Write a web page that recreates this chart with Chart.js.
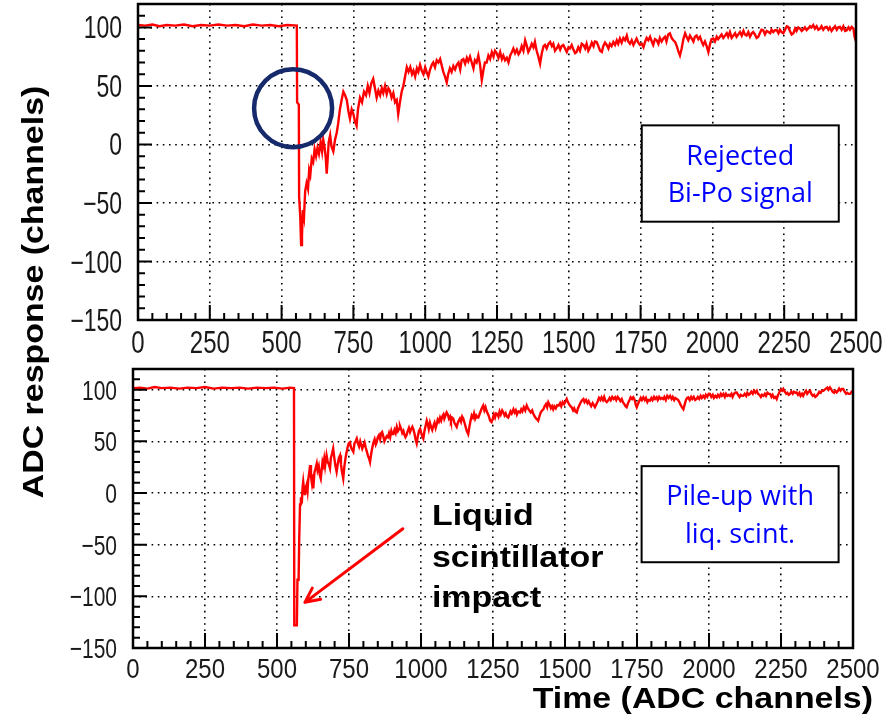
<!DOCTYPE html>
<html>
<head>
<meta charset="utf-8">
<script src="https://cdn.jsdelivr.net/npm/chart.js@4.4.1/dist/chart.umd.min.js"></script>
<style>
  html, body { margin: 0; padding: 0; background: #fff; }
  #wrap { position: relative; width: 893px; height: 717px; }
  #wrap canvas { position: absolute; left: 0; top: 0; }
</style>
</head>
<body>
<div id="wrap">
  <canvas id="topChart" width="893" height="717"></canvas>
  <canvas id="bottomChart" width="893" height="717"></canvas>
</div>
<script>
// axis ticks shared by both panels
const xTicks = [0, 250, 500, 750, 1000, 1250, 1500, 1750, 2000, 2250, 2500];
const yTicks = [-150, -100, -50, 0, 50, 100];

// upper panel: rejected Bi-Po signal
const topTime = [
  0, 25, 50, 75, 100, 130, 160, 190, 220, 250,
  280, 310, 340, 370, 400, 430, 460, 490, 520, 553,
  554, 560, 561, 565, 568, 571, 574, 578, 582, 587,
  592, 596, 600, 605, 610, 615, 620, 625, 630, 636,
  641, 645, 650, 654, 657, 660, 664, 669, 674, 680,
  686, 692, 697, 703, 709, 715, 721, 727, 733, 738,
  744, 750, 755, 761, 766, 773, 780, 787, 794, 800,
  806, 812, 819, 825, 831, 837, 843, 849, 854, 860,
  866, 872, 877, 883, 889, 895, 901, 906, 912, 918,
  924, 930, 936, 942, 948, 954, 959, 965, 971, 976,
  982, 988, 994, 1000, 1005, 1011, 1017, 1023, 1028, 1034,
  1040, 1046, 1052, 1057, 1063, 1069, 1075, 1080, 1086, 1092,
  1098, 1104, 1110, 1116, 1122, 1127, 1133, 1139, 1145, 1150,
  1156, 1162, 1168, 1173, 1179, 1185, 1191, 1197, 1203, 1208,
  1214, 1220, 1226, 1232, 1238, 1243, 1249, 1255, 1261, 1267,
  1272, 1278, 1284, 1290, 1296, 1302, 1307, 1313, 1319, 1325,
  1330, 1336, 1342, 1348, 1354, 1359, 1365, 1371, 1377, 1382,
  1388, 1394, 1400, 1406, 1412, 1417, 1423, 1429, 1435, 1441,
  1446, 1452, 1458, 1464, 1470, 1475, 1481, 1487, 1493, 1499,
  1504, 1510, 1516, 1522, 1527, 1533, 1539, 1545, 1551, 1557,
  1562, 1568, 1574, 1580, 1586, 1591, 1597, 1603, 1609, 1615,
  1620, 1626, 1632, 1638, 1643, 1649, 1655, 1661, 1667, 1672,
  1678, 1684, 1690, 1696, 1702, 1707, 1713, 1719, 1725, 1731,
  1736, 1742, 1748, 1754, 1760, 1766, 1771, 1777, 1783, 1789,
  1794, 1800, 1806, 1812, 1817, 1823, 1829, 1835, 1840, 1846,
  1852, 1858, 1864, 1870, 1876, 1881, 1887, 1893, 1899, 1905,
  1910, 1916, 1922, 1928, 1934, 1939, 1945, 1951, 1957, 1963,
  1968, 1974, 1980, 1986, 1992, 1997, 2003, 2009, 2015, 2020,
  2026, 2032, 2038, 2044, 2050, 2055, 2061, 2067, 2073, 2079,
  2084, 2090, 2096, 2102, 2108, 2113, 2119, 2125, 2131, 2137,
  2142, 2148, 2154, 2160, 2165, 2171, 2177, 2183, 2189, 2195,
  2201, 2206, 2212, 2218, 2224, 2230, 2235, 2241, 2247, 2253,
  2259, 2264, 2270, 2276, 2282, 2288, 2293, 2299, 2305, 2311,
  2316, 2322, 2328, 2334, 2340, 2345, 2351, 2357, 2363, 2369,
  2375, 2380, 2386, 2392, 2398, 2404, 2409, 2415, 2421, 2427,
  2433, 2438, 2444, 2450, 2456, 2462, 2468, 2474, 2479, 2485,
  2491, 2495, 2500
];
const topSignal = [
  102, 101.5, 102.5, 101, 102, 101.5, 102.5, 101, 102, 101.5,
  102.5, 101.5, 102, 101, 102.5, 101.5, 102, 101, 102, 101.5,
  36, 34, -45, -62, -86, -78, -56, -62, -40, -33,
  -38, -22, -26, -12, -15, -4, -10, -3, -8, 2,
  -6, 4, -3, -12, -25, -14, 2, 8, -2, -6,
  4, 10, 18, 30, 38, 45, 42, 38, 28, 22,
  30, 26, 20, 16, 30, 40, 36, 45, 42, 50,
  44, 52, 56, 48, 40, 46, 42, 48, 44, 50,
  43, 48, 46, 40, 44, 36, 38, 26, 36, 45,
  50, 58, 66, 62, 66, 60, 63, 58, 65, 62,
  68, 63, 60, 66, 62, 58, 64, 68, 70, 66,
  72, 70, 73, 68, 62, 58, 53, 60, 65, 62,
  67, 64, 68, 70, 64, 72, 73, 69, 74, 71,
  75, 70, 65, 72, 70, 76, 68, 55, 64, 70,
  70, 76, 73, 79, 75, 80, 78, 74, 79, 73,
  76, 72, 74, 70, 76, 79, 82, 78, 81, 77,
  79, 84, 80, 89, 84, 79, 82, 86, 83, 87.6,
  80, 75, 69, 78, 84, 85, 82, 86, 87.6, 84,
  86, 80, 82, 85, 81, 84, 85, 82, 79, 83,
  82, 85, 81, 78, 79, 83, 80, 86, 85, 82,
  86, 80, 83, 87, 84, 88, 87.6, 84, 80, 79,
  84, 87, 85, 82, 86, 84, 87.6, 85, 89, 86,
  90.5, 87, 91, 89, 93, 88, 86, 89, 85, 88,
  90.5, 87, 85, 86, 83, 88, 91, 89, 92, 88,
  85, 90, 89, 86, 91, 88, 90.5, 92, 88, 94,
  95, 91, 89, 87.6, 84, 80, 76, 82, 90, 95,
  92, 89, 93, 90.5, 88, 92, 93, 90, 92, 87.6,
  85, 88, 84, 79, 86, 90, 90.5, 88, 92, 90,
  92, 94, 91, 93, 95, 92, 96, 91, 93, 95,
  92, 94, 96, 93, 97, 94, 93, 96, 92, 95,
  96, 94, 91, 92, 95, 98, 97.6, 94, 97, 96,
  95, 98, 96, 97.6, 97.6, 95, 98, 96, 95, 98,
  101, 100.4, 97, 94, 95, 99, 97, 100, 99, 97,
  98, 100, 97.6, 99, 101, 100, 102, 99, 101, 98,
  99, 101, 98, 100, 100.4, 98, 100, 97, 99, 101,
  98, 100, 100.4, 98, 101, 97, 97.6, 100, 98, 100.4,
  99, 92, 88
];

// lower panel: pile-up with liquid scintillator
const bottomTime = [
  0, 25, 50, 75, 100, 130, 160, 190, 220, 250,
  280, 310, 340, 370, 400, 430, 460, 490, 520, 545,
  559, 560, 569, 571, 575, 577, 580, 583, 586, 589,
  591, 594, 597, 600, 603, 606, 609, 612, 615, 618,
  621, 624, 626, 630, 634, 638, 641, 645, 649, 652,
  655, 658, 661, 664, 667, 672, 676, 680, 684, 687,
  691, 695, 699, 703, 707, 711, 715, 719, 722, 726,
  730, 734, 738, 742, 745, 749, 753, 757, 761, 765,
  769, 773, 777, 781, 785, 789, 793, 796, 800, 804,
  808, 812, 816, 820, 823, 827, 831, 835, 839, 843,
  846, 850, 854, 858, 862, 865, 869, 873, 877, 881,
  885, 889, 893, 897, 900, 904, 908, 912, 916, 920,
  924, 927, 931, 935, 939, 943, 946, 950, 954, 958,
  962, 966, 970, 973, 977, 981, 985, 989, 993, 997,
  1001, 1004, 1008, 1012, 1016, 1020, 1024, 1027, 1031, 1035,
  1039, 1043, 1047, 1051, 1055, 1058, 1062, 1066, 1070, 1074,
  1078, 1081, 1085, 1089, 1093, 1097, 1101, 1104, 1108, 1112,
  1116, 1120, 1124, 1128, 1131, 1135, 1139, 1143, 1147, 1151,
  1155, 1159, 1164, 1168, 1172, 1176, 1180, 1184, 1188, 1192,
  1196, 1199, 1203, 1207, 1211, 1216, 1220, 1224, 1228, 1232,
  1236, 1240, 1245, 1249, 1253, 1257, 1261, 1265, 1269, 1273,
  1277, 1282, 1286, 1290, 1294, 1298, 1303, 1307, 1311, 1315,
  1321, 1325, 1329, 1333, 1338, 1344, 1348, 1352, 1357, 1362,
  1367, 1371, 1376, 1381, 1386, 1390, 1395, 1400, 1404, 1407,
  1412, 1416, 1421, 1425, 1429, 1434, 1438, 1442, 1447, 1451,
  1455, 1459, 1463, 1468, 1473, 1478, 1483, 1487, 1492, 1497,
  1502, 1506, 1510, 1514, 1519, 1523, 1528, 1532, 1536, 1541,
  1545, 1550, 1555, 1560, 1564, 1568, 1573, 1578, 1582, 1587,
  1591, 1596, 1600, 1604, 1609, 1614, 1618, 1623, 1627, 1632,
  1636, 1641, 1645, 1650, 1655, 1659, 1664, 1669, 1674, 1678,
  1683, 1688, 1692, 1697, 1701, 1706, 1710, 1714, 1719, 1724,
  1728, 1733, 1737, 1742, 1746, 1749, 1753, 1758, 1763, 1767,
  1772, 1777, 1781, 1786, 1790, 1795, 1800, 1804, 1809, 1813,
  1818, 1822, 1827, 1832, 1836, 1841, 1845, 1850, 1855, 1860,
  1865, 1870, 1874, 1879, 1883, 1888, 1893, 1897, 1902, 1906,
  1911, 1916, 1920, 1924, 1928, 1933, 1938, 1942, 1947, 1952,
  1957, 1961, 1966, 1971, 1975, 1980, 1985, 1989, 1994, 1999,
  2003, 2008, 2013, 2017, 2022, 2027, 2031, 2036, 2041, 2045,
  2050, 2055, 2059, 2064, 2069, 2073, 2078, 2082, 2087, 2092,
  2096, 2101, 2106, 2110, 2115, 2119, 2124, 2129, 2133, 2138,
  2142, 2147, 2152, 2156, 2161, 2166, 2170, 2175, 2180, 2184,
  2189, 2194, 2198, 2203, 2207, 2212, 2217, 2221, 2226, 2231,
  2235, 2240, 2245, 2249, 2254, 2258, 2263, 2268, 2272, 2277,
  2281, 2286, 2291, 2295, 2300, 2304, 2309, 2314, 2318, 2323,
  2327, 2332, 2337, 2341, 2346, 2351, 2355, 2360, 2365, 2369,
  2374, 2379, 2383, 2388, 2392, 2397, 2402, 2406, 2411, 2415,
  2420, 2425, 2429, 2434, 2438, 2443, 2448, 2452, 2457, 2461,
  2466, 2471, 2476, 2480, 2485, 2490, 2495, 2500
];
const bottomSignal = [
  101.5, 102, 101, 102.5, 101.5, 102, 101, 102, 101.5, 102.5,
  101, 102, 101.5, 102, 101, 102, 101.5, 102, 101, 102,
  101.5, -128, -128, -84, -84, -47, -11, -4, -10, 6,
  11, 3, -2, 5, 8, 2, 14, 20, 27, 16,
  10, 18, 4.5, 20, 24, 28.5, 22, 26, 17, 14,
  22, 30, 27, 33, 26, 36.5, 30, 28, 24, 34,
  38, 43, 34, 26, 20.5, 28, 34, 36.5, 28, 20,
  14, 26, 34, 40, 44, 48, 49, 44, 42, 40,
  48, 50, 52.6, 48, 45, 50, 46, 43, 46, 49,
  44, 40, 36, 33, 30, 38, 44, 49, 52, 47,
  49, 54, 56, 52, 58, 59, 55, 50, 52.6, 55,
  54, 58, 54, 60, 57, 57, 61, 58, 64, 60,
  62, 65, 62, 58, 60, 56, 54, 56, 60, 63,
  59, 62, 64, 62, 58, 52, 48, 55, 60, 62,
  58, 55, 52.6, 60, 65, 70, 66, 62, 68, 64,
  61, 65, 68, 63, 67, 71, 69, 73, 70, 74,
  76, 72, 75, 78, 76, 72, 74, 70, 73, 72,
  68, 66, 64, 68, 70, 72, 69, 74, 72, 68,
  64, 60, 57, 64, 70, 75, 73, 77, 72, 75,
  73, 73, 76, 79, 82, 84.6, 80, 83, 79, 76.6,
  74, 70, 68.6, 72, 76, 73, 77, 76.6, 74, 79,
  76, 80, 78, 75, 77, 74, 73, 76, 79, 77,
  81, 78, 80, 76, 79, 78, 81, 79, 83, 80,
  84.6, 82, 80, 78, 80, 76.6, 74, 72, 71, 70,
  75, 78, 80, 81, 84, 86, 83, 87.8, 85, 82,
  84, 81, 84, 82, 85, 84.6, 87, 84, 88, 86,
  89, 91, 88, 86, 84, 83, 80, 82, 79, 78,
  82, 85, 88, 90, 91, 88, 90, 87, 89, 86,
  84, 87, 85, 83, 86, 89, 92, 90, 92.6, 90,
  93, 89, 88, 89.4, 92, 90, 93, 91, 92.6, 90,
  93, 91, 89, 91, 88, 86, 84, 83, 87, 90,
  92.6, 91, 92.6, 90, 85, 83, 86, 89, 92, 90,
  92.6, 90, 92, 88, 90, 89.4, 92, 90, 93, 91,
  92.6, 90, 93, 91, 92, 91, 93, 90, 94, 92,
  94, 91, 93, 90, 92, 91, 90, 88, 85, 83,
  81, 86, 90, 92, 92.6, 90, 93, 91, 93, 90,
  91, 93, 91, 94, 92, 94, 92, 95, 93, 96,
  95.9, 93, 95, 92, 94, 92.6, 95, 93, 96, 94,
  95.9, 93, 96, 94, 95, 94, 96, 93, 96, 97.4,
  97.4, 95, 93, 95, 94, 94, 96, 94, 97, 95,
  95.9, 98, 96, 99, 97, 99, 96, 95, 93, 95,
  94, 96, 94, 97, 95.9, 95.9, 93, 95, 92, 93,
  91, 95, 98, 100, 99, 100.7, 98, 96, 97, 95,
  95.9, 98, 96, 98, 97, 97.4, 95, 97, 94, 96,
  94, 97, 99, 96, 98, 99, 96, 94, 95, 93,
  94, 96, 98, 97, 99, 99, 100, 101, 102, 100,
  102.2, 100, 98, 97, 99, 97.4, 99, 101, 99, 100.7,
  100.7, 98, 96, 97, 95.9, 95.9, 98, 99
];

if (topTime.length !== topSignal.length || bottomTime.length !== bottomSignal.length) {
  throw new Error('series length mismatch: ' + topTime.length + '/' + topSignal.length +
    ' ' + bottomTime.length + '/' + bottomSignal.length);
}

const sansFont = "'Liberation Sans', Arial, sans-serif";
const noteFont = "'Open Sans', 'Noto Sans', sans-serif";

function minusLabel(v) {
  return v < 0 ? '\u2212' + Math.abs(v) : String(v);
}

// fixed-size axes so both plot frames land where the figure has them;
// the labels themselves are drawn by the frame plugin (tall, narrow digits)
function makeScales(yWidth) {
  return {
    x: {
      type: 'linear', min: 0, max: 2500,
      afterBuildTicks: (s) => { s.ticks = xTicks.map(v => ({ value: v })); },
      afterFit: (s) => { s.height = 40; s.paddingLeft = 0; s.paddingRight = 0; },
      grid: { color: '#000', lineWidth: 1.6, drawTicks: false },
      border: { display: false, dash: [1.6, 4.6] },
      ticks: { display: false }
    },
    y: {
      type: 'linear', min: -150, max: 120,
      afterBuildTicks: (s) => { s.ticks = yTicks.map(v => ({ value: v })); },
      afterFit: (s) => { s.width = yWidth; s.paddingTop = 0; s.paddingBottom = 0; },
      grid: { color: '#000', lineWidth: 1.6, drawTicks: false },
      border: { display: false, dash: [1.6, 4.6] },
      ticks: { display: false }
    }
  };
}

function signalDataset(time, signal) {
  return {
    data: time.map((t, i) => ({ x: t, y: signal[i] })),
    borderColor: '#ff0000',
    borderWidth: 2.4,
    pointRadius: 0,
    tension: 0,
    fill: false
  };
}

// frame around the plot, ROOT-style inner tick marks and tick labels
function drawFrame(chart, lab) {
  const { ctx, chartArea: a, scales: { x, y } } = chart;
  ctx.save();
  ctx.strokeStyle = '#000';
  ctx.lineWidth = 2;
  ctx.beginPath();
  for (let t = x.min; t <= x.max; t += 50) {
    const px = x.getPixelForValue(t);
    ctx.moveTo(px, a.bottom);
    ctx.lineTo(px, a.bottom - (t % 250 === 0 ? 15 : 7));
  }
  for (let v = y.min; v <= y.max; v += 10) {
    const py = y.getPixelForValue(v);
    ctx.moveTo(a.left, py);
    ctx.lineTo(a.left + (v % 50 === 0 ? 14 : 7), py);
  }
  ctx.stroke();
  ctx.lineWidth = 2.5;
  ctx.strokeRect(a.left, a.top, a.right - a.left, a.bottom - a.top);

  ctx.fillStyle = '#1a1a1a';
  ctx.textBaseline = 'alphabetic';
  ctx.font = lab.ySize + 'px ' + sansFont;
  ctx.textAlign = 'right';
  const yHalf = 0.716 * lab.ySize * lab.yStretch / 2;
  y.ticks.forEach(t => {
    ctx.save();
    ctx.translate(a.left - 16, y.getPixelForValue(t.value) + yHalf);
    ctx.scale(1, lab.yStretch);
    ctx.fillText(minusLabel(t.value), 0, 0);
    ctx.restore();
  });
  ctx.font = lab.xSize + 'px ' + sansFont;
  ctx.textAlign = 'center';
  x.ticks.forEach(t => {
    ctx.save();
    ctx.translate(x.getPixelForValue(t.value), a.bottom + lab.xBase);
    ctx.scale(1, lab.xStretch);
    ctx.fillText(minusLabel(t.value), 0, 0);
    ctx.restore();
  });
  ctx.restore();
}

function drawNoteBox(chart, x0, x1, y0, y1, lines, firstOffset, lineGap) {
  const { ctx, scales: { x, y } } = chart;
  const left = x.getPixelForValue(x0), right = x.getPixelForValue(x1);
  const top = y.getPixelForValue(y0), bottom = y.getPixelForValue(y1);
  ctx.save();
  ctx.fillStyle = '#fff';
  ctx.fillRect(left, top, right - left, bottom - top);
  ctx.strokeStyle = '#000';
  ctx.lineWidth = 2;
  ctx.strokeRect(left, top, right - left, bottom - top);
  ctx.fillStyle = '#0000ff';
  ctx.font = '27px ' + noteFont;
  ctx.textAlign = 'center';
  ctx.textBaseline = 'alphabetic';
  lines.forEach((s, i) => ctx.fillText(s, (left + right) / 2, top + firstOffset + i * lineGap));
  ctx.restore();
}

// bold labels in the figure are a little wider than Liberation Sans, so stretch them
function wideText(ctx, text, px, py, align, angle) {
  ctx.save();
  ctx.translate(px, py);
  if (angle) ctx.rotate(angle);
  ctx.scale(1.13, 1);
  ctx.font = 'bold 30px ' + sansFont;
  ctx.fillStyle = '#000';
  ctx.textAlign = align;
  ctx.textBaseline = 'alphabetic';
  ctx.fillText(text, 0, 0);
  ctx.restore();
}

const topNotes = {
  id: 'topNotes',
  afterDraw(chart) {
    const { ctx, scales: { x, y } } = chart;
    drawFrame(chart, { ySize: 23, yStretch: 1.34, xSize: 24, xStretch: 1.34, xBase: 33 });
    // circle around the step in the falling edge
    ctx.save();
    ctx.strokeStyle = '#15296b';
    ctx.lineWidth = 4.5;
    ctx.beginPath();
    ctx.arc(x.getPixelForValue(540), y.getPixelForValue(31), 39, 0, Math.PI * 2);
    ctx.stroke();
    ctx.restore();
    drawNoteBox(chart, 1754, 2440, 16.3, -66, ['Rejected', 'Bi-Po signal'], 40, 37);
    // shared y title for both panels
    wideText(ctx, 'ADC response (channels)', 43, 292, 'center', -Math.PI / 2);
  }
};

const bottomNotes = {
  id: 'bottomNotes',
  afterDraw(chart) {
    const { ctx, scales: { x, y } } = chart;
    drawFrame(chart, { ySize: 21, yStretch: 1.33, xSize: 24, xStretch: 1.16, xBase: 30 });
    drawNoteBox(chart, 1766, 2450, 26, -67, ['Pile-up with', 'liq. scint.'], 39, 38);
    // arrow pointing at the liquid scintillator spike
    const sx = x.getPixelForValue(937), sy = y.getPixelForValue(-34.6);
    const ex = x.getPixelForValue(597), ey = y.getPixelForValue(-105.8);
    const ang = Math.atan2(ey - sy, ex - sx);
    ctx.save();
    ctx.strokeStyle = '#ff0000';
    ctx.lineWidth = 3;
    ctx.lineCap = 'round';
    ctx.beginPath();
    ctx.moveTo(sx, sy);
    ctx.lineTo(ex, ey);
    ctx.moveTo(ex, ey);
    ctx.lineTo(ex - 16 * Math.cos(ang - 0.45), ey - 16 * Math.sin(ang - 0.45));
    ctx.moveTo(ex, ey);
    ctx.lineTo(ex - 16 * Math.cos(ang + 0.45), ey - 16 * Math.sin(ang + 0.45));
    ctx.stroke();
    ctx.restore();
    const lx = x.getPixelForValue(1038);
    wideText(ctx, 'Liquid', lx, y.getPixelForValue(-30.8), 'left');
    wideText(ctx, 'scintillator', lx, y.getPixelForValue(-72), 'left');
    wideText(ctx, 'impact', lx, y.getPixelForValue(-110.6), 'left');
    wideText(ctx, 'Time (ADC channels)', 873, 708, 'right');
  }
};

const common = {
  responsive: false,
  animation: false,
  plugins: { legend: { display: false }, tooltip: { enabled: false } }
};

new Chart(document.getElementById('topChart'), {
  type: 'line',
  data: { datasets: [signalDataset(topTime, topSignal)] },
  options: {
    ...common,
    layout: { padding: { left: 0, top: 4, right: 37, bottom: 357 } },
    scales: makeScales(138)
  },
  plugins: [topNotes]
});

new Chart(document.getElementById('bottomChart'), {
  type: 'line',
  data: { datasets: [signalDataset(bottomTime, bottomSignal)] },
  options: {
    ...common,
    layout: { padding: { left: 0, top: 369, right: 40, bottom: 29 } },
    scales: makeScales(133)
  },
  plugins: [bottomNotes]
});
</script>
</body>
</html>
